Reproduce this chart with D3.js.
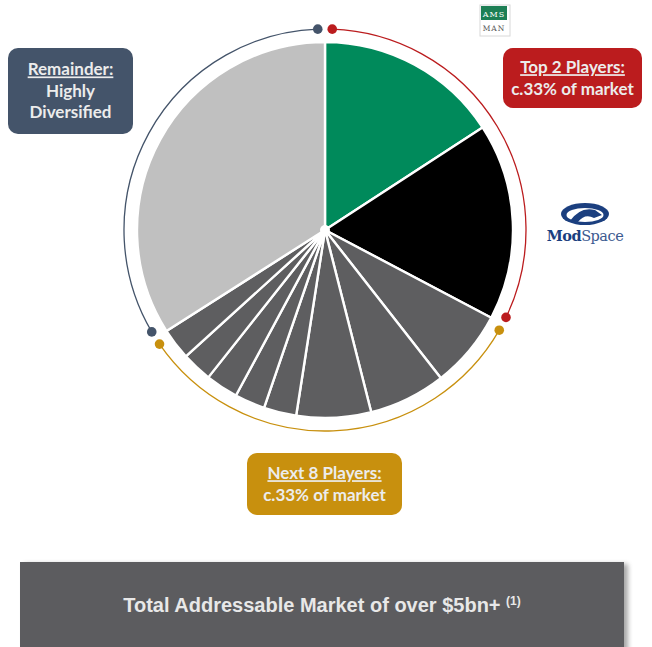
<!DOCTYPE html>
<html><head><meta charset="utf-8">
<script src="https://cdn.jsdelivr.net/npm/d3@7/dist/d3.min.js"></script>
<style>body{margin:0;background:#fff;}svg{display:block;}</style>
</head><body>
<svg id="c" width="652" height="647"></svg>
<script>
// Market share slices, clockwise from 12 o'clock (percent of market)
const categories = ["Player 1","Player 2","Player 3","Player 4","Player 5","Player 6","Player 7","Player 8","Player 9","Player 10","Remainder"];
const shares = [15.8, 16.9, 6.7, 6.6, 6.4, 2.8, 2.6, 2.8, 2.6, 2.7, 34.0];
const sliceGroup = ["top","top","next","next","next","next","next","next","next","next","rest"];
const groups = ["top","next","rest"];
const groupTitles = ["Top 2 Players:","Next 8 Players:","Remainder:"];
const groupSubtitles = [["c.33% of market"],["c.33% of market"],["Highly","Diversified"]];
const bannerText = "Total Addressable Market of over $5bn+";
const bannerNote = "(1)";

const svg = d3.select("#c");
const cx = 325, cy = 230, R = 188, RA = 201;
const sliceColor = d3.scaleOrdinal().domain(categories)
  .range(["#008a5b","#000000","#5e5e60","#5e5e60","#5e5e60","#5e5e60","#5e5e60","#5e5e60","#5e5e60","#5e5e60","#c0c0c0"]);
const groupColor = d3.scaleOrdinal().domain(groups).range(["#bb1c1e","#c8900e","#44546a"]);

const defs = svg.append("defs");
const f = defs.append("filter").attr("id","sh").attr("x","-5%").attr("y","-20%").attr("width","115%").attr("height","150%");
f.append("feGaussianBlur").attr("in","SourceAlpha").attr("stdDeviation",2.5);
f.append("feOffset").attr("dx",4).attr("dy",2).attr("result","b");
f.append("feComponentTransfer").append("feFuncA").attr("type","linear").attr("slope",0.35);
const fm = f.append("feMerge"); fm.append("feMergeNode"); fm.append("feMergeNode").attr("in","SourceGraphic");

const g = svg.append("g").attr("transform",`translate(${cx},${cy})`);
const pie = d3.pie().sort(null).value(d => d.v);
const arcs = pie(shares.map((v,i)=>({v, c:categories[i], grp:sliceGroup[i]})));
const arc = d3.arc().innerRadius(0).outerRadius(R);
g.selectAll("path.s").data(arcs).join("path").attr("class","s")
  .attr("d",arc).attr("fill",d=>sliceColor(d.data.c))
  .attr("stroke","#fff").attr("stroke-width",2.4).attr("stroke-linejoin","round");
g.append("circle").attr("r",5).attr("fill","#fff");

// group bracket arcs
const pad = 0.036;
const ring = d3.arc().innerRadius(RA).outerRadius(RA);
groups.forEach(gr => {
  const sel = arcs.filter(a => a.data.grp === gr);
  const a0 = d3.min(sel, a=>a.startAngle) + pad, a1 = d3.max(sel, a=>a.endAngle) - pad;
  const col = groupColor(gr);
  g.append("path").attr("d", ring({startAngle:a0,endAngle:a1})).attr("fill","none")
    .attr("stroke",col).attr("stroke-width",1.3);
  [a0,a1].forEach(a => g.append("circle").attr("cx",RA*Math.sin(a)).attr("cy",-RA*Math.cos(a))
    .attr("r",4.8).attr("fill",col));
});

// label boxes
const boxes = [
  {gr:"top", x:503, y:48, w:139, h:60},
  {gr:"next", x:247, y:453, w:155, h:62},
  {gr:"rest", x:8, y:48, w:125, h:86}
];
boxes.forEach(b => {
  const i = groups.indexOf(b.gr);
  svg.append("rect").attr("x",b.x).attr("y",b.y).attr("width",b.w).attr("height",b.h)
    .attr("rx",10).attr("fill",groupColor(b.gr));
  const lines = [groupTitles[i]].concat(groupSubtitles[i]);
  const lh = 21.5;
  const y0 = b.y + b.h/2 - (lines.length-1)*lh/2;
  lines.forEach((t,k) => {
    const tx = svg.append("text").attr("x",b.x+b.w/2).attr("y",y0+k*lh).attr("dy","0.35em")
      .attr("text-anchor","middle").attr("fill","#ececec")
      .attr("font-family","Lato, 'Open Sans', sans-serif").attr("font-weight","bold")
      .attr("font-size",17).text(t);
    if (k===0) tx.attr("text-decoration","underline");
  });
});

// banner
svg.append("rect").attr("x",20).attr("y",562).attr("width",604).attr("height",90)
  .attr("fill","#5b5c5e").attr("filter","url(#sh)");
const bt = svg.append("text").attr("x",322).attr("y",605).attr("dy","0.35em").attr("text-anchor","middle")
  .attr("fill","#e8e8e8").attr("font-family","'Liberation Sans', Arial, sans-serif")
  .attr("font-weight","bold").attr("font-size",20);
bt.append("tspan").text(bannerText + " ");
bt.append("tspan").attr("font-size",12).attr("dy","-0.6em").text(bannerNote);

// AMS MAN logo
const lg = svg.append("g");
lg.append("rect").attr("x",480).attr("y",5).attr("width",30).attr("height",31).attr("fill","#fff").attr("stroke","#d8d8d8").attr("stroke-width",1);
lg.append("rect").attr("x",481).attr("y",6).attr("width",26).attr("height",14).attr("fill","#1d7f55");
lg.append("text").attr("x",494).attr("y",16.5).attr("text-anchor","middle").attr("fill","#fff")
  .attr("font-family","'DejaVu Serif', serif").attr("font-size",8).attr("letter-spacing",1).text("AMS");
lg.append("text").attr("x",494).attr("y",31).attr("text-anchor","middle").attr("fill","#555")
  .attr("font-family","'DejaVu Serif', serif").attr("font-size",7.5).attr("letter-spacing",1).text("MAN");

// ModSpace logo
const ms = svg.append("g");
ms.append("ellipse").attr("cx",585).attr("cy",214).attr("rx",24).attr("ry",11).attr("fill","#1b3f7f");
ms.append("ellipse").attr("cx",585).attr("cy",215).attr("rx",18.5).attr("ry",7).attr("fill","#fff");
ms.append("path").attr("d","M569,222 Q580,206 595,210 L602,215 L594,218 Q585,213 578,222 Z").attr("fill","#1b3f7f");
const mt = ms.append("text").attr("x",585).attr("y",241).attr("text-anchor","middle")
  .attr("font-family","'DejaVu Serif', 'Liberation Serif', serif").attr("font-size",14.5).attr("font-weight","bold").attr("fill","#1b3f7f")
  .attr("letter-spacing",-0.5);
mt.append("tspan").text("Mod");
mt.append("tspan").attr("font-weight","normal").attr("fill","#3c5a90").text("Space");
</script>
</body></html>
